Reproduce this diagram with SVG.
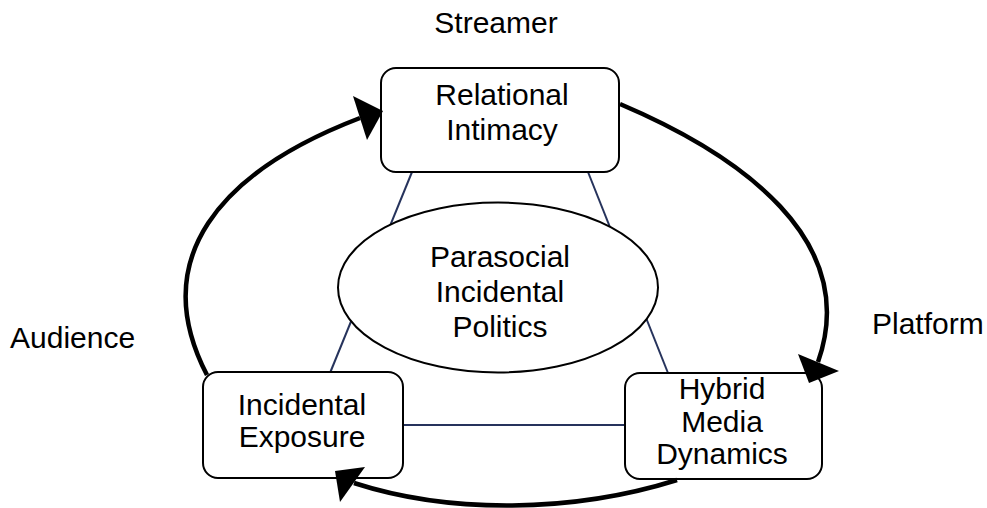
<svg xmlns="http://www.w3.org/2000/svg" width="987" height="508" viewBox="0 0 987 508">
  <style>
    .lbl { font-family: "Liberation Sans", Arial, Helvetica, sans-serif; font-size: 30px; fill: #000; text-anchor: middle; }
    .side { font-family: "Liberation Sans", Arial, Helvetica, sans-serif; font-size: 30px; fill: #000; }
    .box { fill: #fff; stroke: #000; stroke-width: 2; }
    .tie { stroke: #26335c; stroke-width: 2; fill: none; }
    .cycle { stroke: #000; stroke-width: 4.5; fill: none; }
    .head { fill: #000; stroke: none; }
  </style>
  <rect width="987" height="508" fill="#fff"/>

  <!-- role labels -->
  <text class="lbl" x="496" y="33">Streamer</text>
  <text class="side" x="10" y="348">Audience</text>
  <text class="side" x="872" y="334">Platform</text>

  <!-- triangle linking the three components -->
  <g id="links">
    <line class="tie" x1="412" y1="172" x2="330" y2="373"/>
    <line class="tie" x1="588" y1="172" x2="668" y2="373"/>
    <line class="tie" x1="403" y1="425" x2="625" y2="425"/>
  </g>

  <g id="core">
    <ellipse class="box" cx="498" cy="287.5" rx="160" ry="85"/>
    <text class="lbl" x="500" y="267">Parasocial</text>
    <text class="lbl" x="500" y="302">Incidental</text>
    <text class="lbl" x="500" y="337">Politics</text>
  </g>

  <g id="relational">
    <rect class="box" x="381" y="68" width="238" height="104" rx="15"/>
    <text class="lbl" x="502" y="105">Relational</text>
    <text class="lbl" x="502" y="140">Intimacy</text>
  </g>

  <g id="exposure">
    <rect class="box" x="203" y="372" width="200" height="106" rx="15"/>
    <text class="lbl" x="302" y="415">Incidental</text>
    <text class="lbl" x="302" y="447">Exposure</text>
  </g>

  <g id="hybrid">
    <rect class="box" x="625" y="373" width="197" height="106" rx="15"/>
    <text class="lbl" x="722" y="399">Hybrid</text>
    <text class="lbl" x="722" y="432">Media</text>
    <text class="lbl" x="722" y="464">Dynamics</text>
  </g>

  <!-- outer cycle -->
  <g id="cycle">
    <path class="cycle" d="M 207 375 C 147 259 219 172 360 118"/>
    <polygon class="head" points="353,96 383,111 367,140"/>
    <path class="cycle" d="M 620 104 C 740 155 861 240 818 362"/>
    <polygon class="head" points="798,354 839,371 809,383"/>
    <path class="cycle" d="M 677 480 C 572 513 450 514 354 483"/>
    <polygon class="head" points="335,471 365,467 340,502"/>
  </g>
</svg>
